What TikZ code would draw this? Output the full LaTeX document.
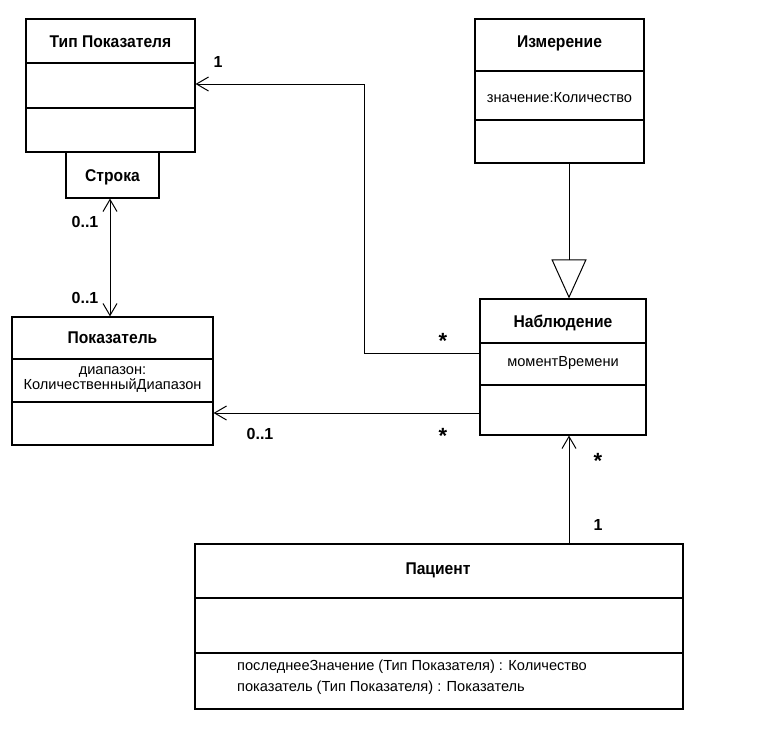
\documentclass[tikz,border=0pt]{standalone}
\usepackage{fontspec}
\setmainfont{Liberation Sans}
\newfontfamily\condfont[FakeStretch=0.92]{Liberation Sans}
\usetikzlibrary{arrows.meta}
\begin{document}
\begin{tikzpicture}[x=1pt,y=-1pt,
  cls/.style={draw,line width=1.1pt,inner sep=0pt,anchor=center},
  ttl/.style={font=\condfont\fontsize{17}{19}\selectfont\bfseries,inner sep=0pt},
  attr/.style={font=\fontsize{14.6}{17}\selectfont,inner sep=0pt,align=center},
  mult/.style={font=\fontsize{16}{18}\selectfont\bfseries,inner sep=0pt},
  star/.style={font=\fontsize{22}{22}\selectfont\bfseries,inner sep=0pt},
  link/.style={line width=1pt},
  nav/.style={link,-{Straight Barb[length=12pt,width=14pt,line width=1pt]}},
  gen/.style={link,-{Triangle[open,length=39pt,width=35pt,line width=1pt]}},
  div/.style={line width=1.1pt}]
\useasboundingbox (0,0) rectangle (757,728);
% Тип Показателя
\node[cls,minimum width=169pt,minimum height=133pt] (tip) at (110.5,85.5) {};
\draw[div] (tip.west |- 0,63) -- (tip.east |- 0,63);
\draw[div] (tip.west |- 0,108) -- (tip.east |- 0,108);
\node[ttl] (tipT) at (110.5,42) {Тип Показателя};
% Строка
\node[cls,minimum width=93pt,minimum height=46pt] (str) at (112.5,175) {};
\node[ttl] (strT) at (112.5,177) {Строка};
% Показатель
\node[cls,minimum width=201pt,minimum height=128pt] (pok) at (112.5,381) {};
\draw[div] (pok.west |- 0,359) -- (pok.east |- 0,359);
\draw[div] (pok.west |- 0,402) -- (pok.east |- 0,402);
\node[ttl] (pokT) at (112.5,338) {Показатель};
\node[attr] (pokA) at (112.5,380) {диапазон:\\[-2pt]КоличественныйДиапазон};
% Измерение
\node[cls,minimum width=169pt,minimum height=144pt] (izm) at (559.5,91) {};
\draw[div] (izm.west |- 0,71) -- (izm.east |- 0,71);
\draw[div] (izm.west |- 0,120) -- (izm.east |- 0,120);
\node[ttl] (izmT) at (559.5,43) {Измерение};
\node[attr] (izmA) at (559.5,98) {значение:Количество};
% Наблюдение
\node[cls,minimum width=166pt,minimum height=136pt] (nab) at (563,367) {};
\draw[div] (nab.west |- 0,343) -- (nab.east |- 0,343);
\draw[div] (nab.west |- 0,385) -- (nab.east |- 0,385);
\node[ttl] (nabT) at (563,323) {Наблюдение};
\node[attr] (nabA) at (563,363) {моментВремени};
% Пациент
\node[cls,minimum width=488pt,minimum height=165pt] (pac) at (439,626.5) {};
\draw[div] (pac.west |- 0,598) -- (pac.east |- 0,598);
\draw[div] (pac.west |- 0,653) -- (pac.east |- 0,653);
\node[ttl] (pacT) at (438,570) {Пациент};
\node[attr,align=left,anchor=west,font=\fontsize{14.6}{21}\selectfont] (pacO) at (237,677) {последнееЗначение (Тип Показателя) : Количество\\показатель (Тип Показателя) : Показатель};
% helper coordinates
\coordinate (ax) at (110,0);
\coordinate (bx) at (569,0);
\coordinate (cx) at (364,0);
\coordinate (y1) at (0,353);
\coordinate (y2) at (0,84);
\coordinate (y3) at (0,413);
% connectors
\draw[nav] (nab.west |- y1) -- (cx |- y1) -- (cx |- y2) -- (tip.east |- y2);
\draw[nav] (nab.west |- y3) -- (pok.east |- y3);
\draw[link,{Straight Barb[length=12pt,width=14pt,line width=1pt]}-{Straight Barb[length=12pt,width=14pt,line width=1pt]}] (str.south -| ax) -- (pok.north -| ax);
\draw[gen] (izm.south -| bx) -- (nab.north -| bx);
\draw[nav] (pac.north -| bx) -- (nab.south -| bx);
% multiplicities
\node[mult] (m1) at (218,62) {1};
\node[star] (m2) at (443,341) {*};
\node[star] (m3) at (443,436) {*};
\node[mult] (m4) at (260,434) {0..1};
\node[mult] (m5) at (85,222) {0..1};
\node[mult] (m6) at (85,298) {0..1};
\node[star] (m7) at (598,461) {*};
\node[mult] (m8) at (598,525) {1};
\end{tikzpicture}
\end{document}
